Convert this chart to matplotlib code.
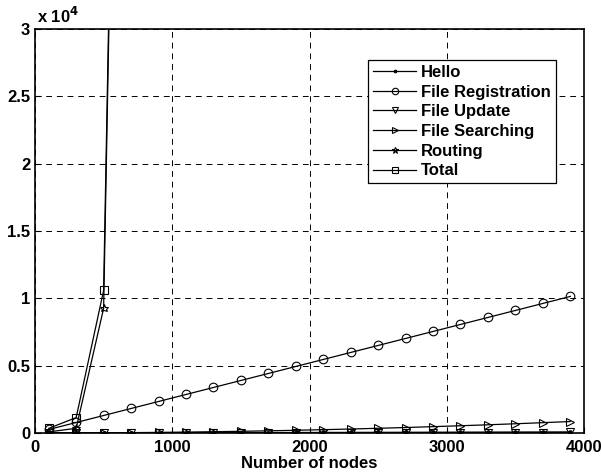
import numpy as np
from matplotlib import pyplot as plt
from matplotlib.ticker import FixedLocator, FuncFormatter

plt.rcParams['font.family'] = ['Liberation Sans', 'DejaVu Sans']
plt.rcParams['font.weight'] = 'bold'

# data ----------------------------
nodes = [100, 300, 500, 700, 900, 1100, 1300, 1500, 1700, 1900,
         2100, 2300, 2500, 2700, 2900, 3100, 3300, 3500, 3700, 3900]
hello = [2, 6, 10, 14, 18, 22, 26, 30, 34, 38,
         42, 46, 50, 54, 58, 62, 66, 70, 74, 78]
file_registration = [260, 780, 1300, 1820, 2340, 2860, 3380, 3900, 4420, 4940,
                     5460, 5980, 6500, 7020, 7540, 8060, 8580, 9100, 9620, 10140]
file_update = [1, 3, 5, 7, 9, 11, 13, 15, 17, 19,
               21, 23, 25, 27, 29, 31, 33, 35, 37, 39]
file_searching = [1, 5, 14, 27, 45, 68, 95, 126, 162, 202,
                  247, 296, 350, 408, 471, 538, 610, 686, 767, 852]
routing = [80, 350, 9260, 118000, 900000, 4.0e6, 1.3e7, 3.5e7, 8.0e7, 1.6e8,
           3.0e8, 5.2e8, 8.5e8, 1.3e9, 2.0e9, 2.9e9, 4.1e9, 5.6e9, 7.5e9, 9.8e9]
total = [h + r + u + s + ro for h, r, u, s, ro in
         zip(hello, file_registration, file_update, file_searching, routing)]

series = [
    ("Hello", hello, "."),
    ("File Registration", file_registration, "o"),
    ("File Update", file_update, "v"),
    ("File Searching", file_searching, ">"),
    ("Routing", routing, "*"),
    ("Total", total, "s"),
]

# figure -----
fig = plt.figure(figsize=(6.01, 4.75), dpi=100)
ax = fig.add_axes([35 / 601, 42 / 475, 549 / 601, 404 / 475])

for name, values, marker in series:
    is_dot = marker == "."
    ax.plot(nodes, values, color="black", linewidth=0.9, marker=marker,
            markersize=5 if is_dot else 6.2,
            markerfacecolor="black" if is_dot else "none",
            markeredgewidth=0.8, label=name)

ax.set_xlim(0, 4000)
ax.set_ylim(0, 30000)
ax.xaxis.set_major_locator(FixedLocator([0, 1000, 2000, 3000, 4000]))
ax.yaxis.set_major_locator(FixedLocator([0, 5000, 10000, 15000, 20000, 25000, 30000]))
ax.yaxis.set_major_formatter(FuncFormatter(lambda v, p: f"{v / 1e4:g}"))
ax.tick_params(direction="in", labelsize=12, length=4, width=0.8)
ax.tick_params(axis="x", pad=5)
for lab in ax.get_xticklabels() + ax.get_yticklabels():
    lab.set_fontweight("bold")

ax.grid(True, color="black", linestyle=(0, (6, 5)), linewidth=0.7)
for spine in ax.spines.values():
    spine.set_linewidth(1.2)

ax.set_xlabel("Number of nodes", fontsize=12, fontweight="bold", labelpad=1)
ax.text(0.003, 1.008, r"x 10$^{\mathbf{4}}$", transform=ax.transAxes,
        fontsize=12, fontweight="bold", va="bottom", ha="left")

leg = ax.legend(loc="upper left", bbox_to_anchor=(333 / 549, 1 - 31 / 404),
                fontsize=12, frameon=True, fancybox=False, framealpha=1,
                edgecolor="black", handlelength=2.6, handletextpad=0.3,
                borderpad=0.3, labelspacing=0.28, borderaxespad=0,
                markerscale=0.75)
leg.get_frame().set_linewidth(0.9)
for t in leg.get_texts():
    t.set_fontweight("bold")

fig.savefig("out.png", dpi=100)
